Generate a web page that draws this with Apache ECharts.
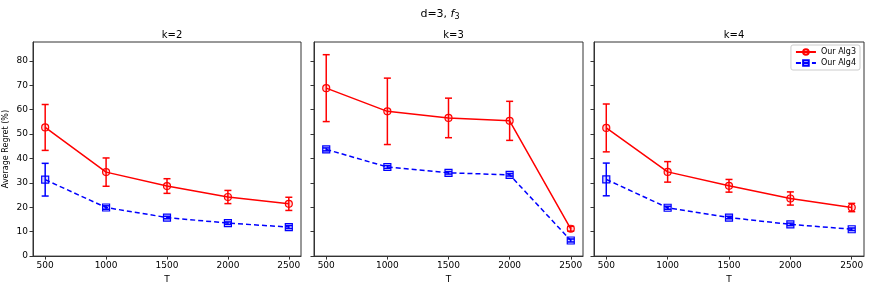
<!DOCTYPE html>
<html>
<head>
<meta charset="utf-8">
<script src="https://cdn.jsdelivr.net/npm/echarts@6/dist/echarts.min.js"></script>
<style>html,body{margin:0;padding:0;background:#fff}#c{width:870px;height:289px}</style>
</head>
<body>
<div id="c"></div>
<script>
// ---- data ----
const T = [500, 1000, 1500, 2000, 2500];
const xTicks = [500, 1000, 1500, 2000, 2500];
const yTicks = [0, 10, 20, 30, 40, 50, 60, 70, 80];
const panels = ['k=2', 'k=3', 'k=4'];
const seriesNames = ['Our Alg3', 'Our Alg4'];

const alg3_k2 = [52.7, 34.4, 28.7, 24.2, 21.4];
const alg3_k2_err = [9.4, 5.8, 3.0, 2.7, 2.7];
const alg4_k2 = [31.3, 19.9, 15.8, 13.5, 11.9];
const alg4_k2_err = [6.7, 0.7, 0.5, 0.5, 0.6];

const alg3_k3 = [68.8, 59.3, 56.6, 55.4, 11.2];
const alg3_k3_err = [13.7, 13.6, 8.1, 8.0, 1.0];
const alg4_k3 = [43.7, 36.5, 34.1, 33.3, 6.4];
const alg4_k3_err = [0.6, 0.6, 0.5, 0.5, 0.6];

const alg3_k4 = [52.5, 34.5, 28.8, 23.6, 19.9];
const alg3_k4_err = [9.8, 4.2, 2.6, 2.7, 1.7];
const alg4_k4 = [31.4, 19.8, 15.8, 13.0, 11.0];
const alg4_k4_err = [6.7, 0.6, 0.5, 0.5, 0.5];

const alg3 = [alg3_k2, alg3_k3, alg3_k4];
const alg3Err = [alg3_k2_err, alg3_k3_err, alg3_k4_err];
const alg4 = [alg4_k2, alg4_k3, alg4_k4];
const alg4Err = [alg4_k2_err, alg4_k3_err, alg4_k4_err];

// ---- layout ----
const FONT = 'DejaVu Sans';
const gridPos = [
  {left: 33, width: 268},
  {left: 314, width: 269},
  {left: 594, width: 270}
];
const RED = '#ff0000', BLUE = '#0000ff';

function errRender(color) {
  return function (params, api) {
    const x = api.value(0), lo = api.value(1), hi = api.value(2);
    const p1 = api.coord([x, hi]), p2 = api.coord([x, lo]);
    const cw = 3.5;
    const st = {stroke: color, lineWidth: 1.5};
    return {
      type: 'group',
      children: [
        {type: 'line', shape: {x1: p1[0], y1: p1[1], x2: p2[0], y2: p2[1]}, style: st},
        {type: 'line', shape: {x1: p1[0] - cw, y1: p1[1], x2: p1[0] + cw, y2: p1[1]}, style: st},
        {type: 'line', shape: {x1: p2[0] - cw, y1: p2[1], x2: p2[0] + cw, y2: p2[1]}, style: st}
      ]
    };
  };
}

const grids = [], xAxes = [], yAxes = [], series = [], titles = [];
titles.push({
  text: '{n|d=3, }{i|f}{s|3}',
  left: 435, top: 2, textAlign: 'center',
  textStyle: {
    fontWeight: 'normal',
    rich: {
      n: {fontFamily: FONT, fontSize: 11, fontWeight: 'normal', color: '#000'},
      i: {fontFamily: FONT, fontSize: 11, fontWeight: 'normal', fontStyle: 'italic', color: '#000'},
      s: {fontFamily: FONT, fontSize: 8, fontWeight: 'normal', color: '#000', verticalAlign: 'bottom', padding: [6, 0, 0, 0]}
    }
  }
});

panels.forEach((name, i) => {
  const g = gridPos[i];
  grids.push({left: g.left, width: g.width, top: 42, height: 216, show: true,
    borderColor: '#333', borderWidth: 1, backgroundColor: 'transparent'});
  titles.push({
    text: name, left: g.left + g.width / 2, top: 25, textAlign: 'center',
    textStyle: {fontFamily: FONT, fontSize: 10, fontWeight: 'normal', color: '#000'}
  });
  xAxes.push({
    type: 'value', gridIndex: i, min: 400, max: 2600,
    name: 'T', nameLocation: 'middle', nameGap: 18,
    nameTextStyle: {fontFamily: FONT, fontSize: 9, color: '#000'},
    axisLine: {show: true, onZero: false, lineStyle: {color: '#333', width: 1}},
    axisTick: {show: true, length: 3.5, lineStyle: {color: '#333'}, customValues: xTicks},
    axisLabel: {fontFamily: FONT, fontSize: 9, color: '#000', margin: 5, customValues: xTicks,
      formatter: v => String(v)},
    splitLine: {show: false}
  });
  yAxes.push({
    type: 'value', gridIndex: i, min: 0, max: 87.7,
    name: i === 0 ? 'Average Regret (%)' : '', nameLocation: 'middle', nameGap: 23, nameRotate: 90,
    nameTextStyle: {fontFamily: FONT, fontSize: 8, color: '#000'},
    axisLine: {show: true, lineStyle: {color: '#333', width: 1}},
    axisTick: {show: true, length: 3.5, lineStyle: {color: '#333'}, customValues: yTicks},
    axisLabel: {show: i === 0, fontFamily: FONT, fontSize: 9, color: '#000', margin: 5, customValues: yTicks,
      formatter: v => String(v)},
    splitLine: {show: false}
  });

  series.push({
    name: seriesNames[0], type: 'line', xAxisIndex: i, yAxisIndex: i,
    data: T.map((t, j) => [t, alg3[i][j]]),
    symbol: 'circle', symbolSize: 7,
    itemStyle: {color: 'rgba(255,0,0,0.15)', borderColor: RED, borderWidth: 1.2},
    lineStyle: {color: RED, width: 1.5, type: 'solid'},
    z: 3, animation: false
  });
  series.push({
    name: seriesNames[1], type: 'line', xAxisIndex: i, yAxisIndex: i,
    data: T.map((t, j) => [t, alg4[i][j]]),
    symbol: 'rect', symbolSize: 7,
    itemStyle: {color: 'rgba(0,0,255,0.15)', borderColor: BLUE, borderWidth: 1.2},
    lineStyle: {color: BLUE, width: 1.5, type: [5, 3]},
    z: 3, animation: false
  });
  series.push({
    name: seriesNames[0], type: 'custom', xAxisIndex: i, yAxisIndex: i,
    renderItem: errRender(RED),
    encode: {x: 0, y: [1, 2]},
    data: T.map((t, j) => [t, alg3[i][j] - alg3Err[i][j], alg3[i][j] + alg3Err[i][j]]),
    z: 4, animation: false
  });
  series.push({
    name: seriesNames[1], type: 'custom', xAxisIndex: i, yAxisIndex: i,
    renderItem: errRender(BLUE),
    encode: {x: 0, y: [1, 2]},
    data: T.map((t, j) => [t, alg4[i][j] - alg4Err[i][j], alg4[i][j] + alg4Err[i][j]]),
    z: 4, animation: false
  });
});

const chart = echarts.init(document.getElementById('c'), null, {renderer: 'canvas'});
chart.setOption({
  animation: false,
  backgroundColor: '#fff',
  title: titles,
  grid: grids,
  xAxis: xAxes,
  yAxis: yAxes,
  legend: {
    data: seriesNames,
    orient: 'vertical',
    right: 10, top: 45,
    itemWidth: 20, itemHeight: 7, itemGap: 3,
    padding: [3, 4, 3, 4],
    borderColor: '#ccc', borderWidth: 1, borderRadius: 2,
    textStyle: {fontFamily: FONT, fontSize: 8, color: '#000'}
  },
  series: series
});
</script>
</body>
</html>
